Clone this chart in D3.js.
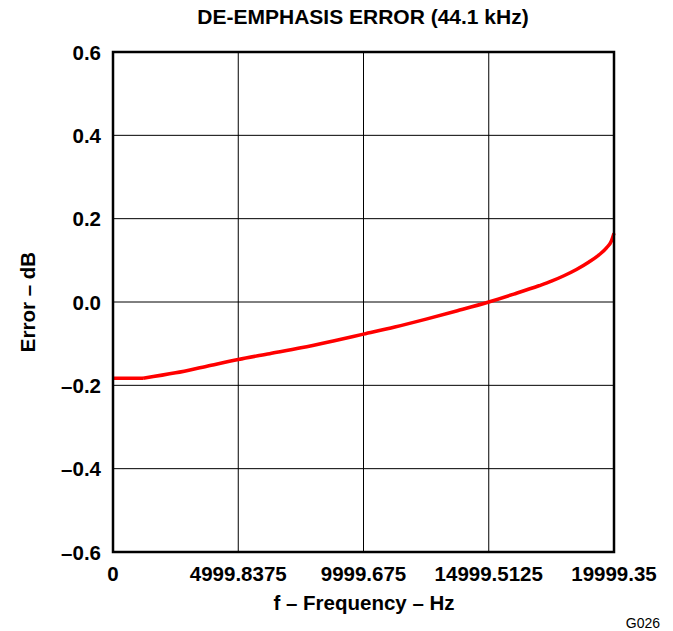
<!DOCTYPE html>
<html><head><meta charset="utf-8">
<script src="https://cdn.jsdelivr.net/npm/d3@7"></script>
<style>body{margin:0;background:#fff}text{font-family:"Liberation Sans",Arial,sans-serif}</style>
</head><body><svg id="c" width="673" height="631"></svg>
<script>
const freqHz = [0, 1200, 2500, 3750, 5000, 6250, 7500, 8750, 10000, 11250, 12500, 13750, 15000, 16000, 17000, 17500, 18000, 18500, 19000, 19400, 19700, 19900, 19999.35];
const errorDb = [-0.183, -0.183, -0.170, -0.154, -0.138, -0.124, -0.110, -0.094, -0.077, -0.060, -0.041, -0.021, 0.000, 0.019, 0.039, 0.050, 0.063, 0.078, 0.096, 0.113, 0.130, 0.147, 0.165];
const xTicks = [0, 4999.8375, 9999.675, 14999.5125, 19999.35];
const xTickLabels = ["0", "4999.8375", "9999.675", "14999.5125", "19999.35"];
const yTicks = [-0.6, -0.4, -0.2, 0.0, 0.2, 0.4, 0.6];
const yTickLabels = ["\u20130.6", "\u20130.4", "\u20130.2", "0.0", "0.2", "0.4", "0.6"];

const svg = d3.select("#c");
const L = 113, R = 614, T = 52, B = 552;
const x = d3.scaleLinear().domain([0, 19999.35]).range([L, R]);
const y = d3.scaleLinear().domain([-0.6, 0.6]).range([B, T]);

// grid
const g = svg.append("g");
g.selectAll("line.v").data(xTicks.slice(1, -1)).enter().append("line")
  .attr("x1", d => x(d)).attr("x2", d => x(d)).attr("y1", T).attr("y2", B)
  .attr("stroke", "#000").attr("stroke-width", 1);
g.selectAll("line.h").data(yTicks.slice(1, -1)).enter().append("line")
  .attr("x1", L).attr("x2", R).attr("y1", d => y(d)).attr("y2", d => y(d))
  .attr("stroke", "#000").attr("stroke-width", 1);

// curve: flat segment then smooth rise
const pts = freqHz.map((f, i) => [f, errorDb[i]]);
const flat = d3.line().x(d => x(d[0])).y(d => y(d[1]));
const smooth = d3.line().x(d => x(d[0])).y(d => y(d[1])).curve(d3.curveMonotoneX);
svg.append("path").attr("d", flat(pts.slice(0, 2)))
  .attr("fill", "none").attr("stroke", "#ff0000").attr("stroke-width", 3.5).attr("stroke-linejoin", "round");
svg.append("path").attr("d", smooth(pts.slice(1)))
  .attr("fill", "none").attr("stroke", "#ff0000").attr("stroke-width", 3.5).attr("stroke-linejoin", "round");

// frame
svg.append("rect").attr("x", L).attr("y", T).attr("width", R - L).attr("height", B - T)
  .attr("fill", "none").attr("stroke", "#000").attr("stroke-width", 2.5);

// tick labels
svg.selectAll("text.yt").data(yTicks).enter().append("text")
  .attr("x", 101).attr("y", d => y(d) + 7.5).attr("text-anchor", "end")
  .attr("font-size", 20.5).attr("font-weight", "bold").text((d, i) => yTickLabels[i]);
svg.selectAll("text.xt").data(xTicks).enter().append("text")
  .attr("x", d => x(d)).attr("y", 581).attr("text-anchor", "middle")
  .attr("font-size", 20.5).attr("font-weight", "bold").text((d, i) => xTickLabels[i]);

svg.append("text").attr("x", 363).attr("y", 24).attr("text-anchor", "middle")
  .attr("font-size", 21).attr("font-weight", "bold").text("DE-EMPHASIS ERROR (44.1 kHz)");
svg.append("text").attr("x", 364).attr("y", 610).attr("text-anchor", "middle")
  .attr("font-size", 20.5).attr("font-weight", "bold").text("f \u2013 Frequency \u2013 Hz");
svg.append("text").attr("transform", "translate(35,302) rotate(-90)").attr("text-anchor", "middle")
  .attr("font-size", 20.5).attr("font-weight", "bold").text("Error \u2013 dB");
svg.append("text").attr("x", 660).attr("y", 628).attr("text-anchor", "end")
  .attr("font-size", 14).text("G026");
</script></body></html>
